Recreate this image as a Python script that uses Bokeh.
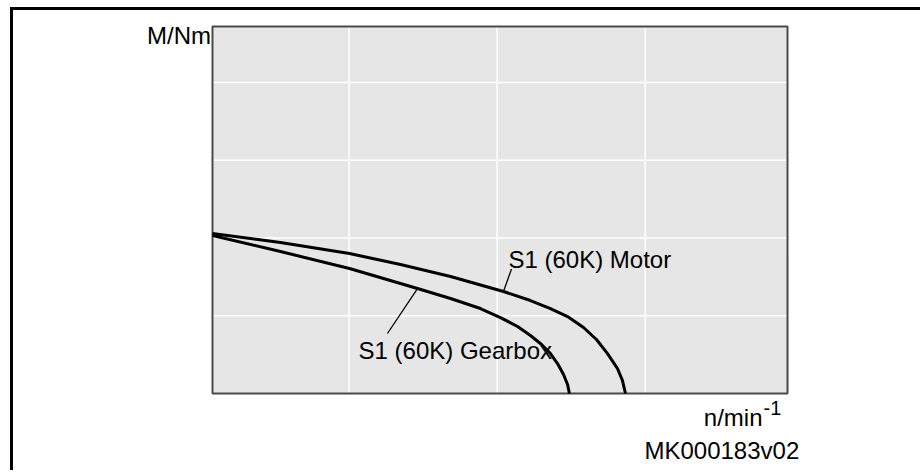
from bokeh.plotting import figure
from bokeh.models import Label, Range1d, Spacer
from bokeh.layouts import row
from bokeh.embed import file_html
from bokeh.resources import INLINE

# Speed n and torque M (arbitrary units, no scale shown)
motor_n = [0.0, 0.473, 0.953, 1.308, 1.656, 2.024, 2.212, 2.351, 2.470, 2.581, 2.671, 2.748, 2.817, 2.852, 2.873]
motor_m = [2.058, 1.942, 1.801, 1.659, 1.505, 1.312, 1.196, 1.093, 0.990, 0.849, 0.695, 0.514, 0.322, 0.167, 0.0]
gear_n = [0.0, 0.473, 0.953, 1.426, 1.656, 1.864, 2.003, 2.122, 2.212, 2.289, 2.351, 2.400, 2.442, 2.470, 2.483]
gear_m = [2.032, 1.826, 1.608, 1.350, 1.222, 1.093, 0.977, 0.862, 0.746, 0.630, 0.514, 0.386, 0.244, 0.116, 0.0]
x_grid = [0.95, 1.98, 3.01]
y_grid = [1, 2, 3, 4]
x_min, x_max = 0.0, 4.0
y_min, y_max = 0.0, 4.72
motor_label = "S1 (60K) Motor"
gear_label = "S1 (60K) Gearbox"
y_label = "M/Nm"
x_label = "n/min"
x_label_sup = "-1"
doc_id = "MK000183v02"

FONT = "Liberation Sans"
W, H = 787, 460

p = figure(width=W, height=H, x_range=Range1d(-1.3843, 4.0904), y_range=Range1d(-0.990, 4.926),
           output_backend="svg", toolbar_location=None,
           x_axis_location=None, y_axis_location=None,
           min_border=0, min_border_left=0, min_border_right=0,
           min_border_top=0, min_border_bottom=0)
p.background_fill_color = "white"
p.border_fill_color = "white"
p.outline_line_color = None
p.grid.visible = False

# plot area
p.quad(left=[x_min], right=[x_max], bottom=[y_min], top=[y_max],
       fill_color="#e6e6e6", line_color=None)
# grid lines
p.segment(x0=x_grid, y0=[y_min] * len(x_grid), x1=x_grid, y1=[y_max] * len(x_grid),
          line_color="white", line_width=1.5)
p.segment(x0=[x_min] * len(y_grid), y0=y_grid, x1=[x_max] * len(y_grid), y1=y_grid,
          line_color="white", line_width=1.5)
# plot-area outline
p.quad(left=[x_min], right=[x_max], bottom=[y_min], top=[y_max],
       fill_color=None, line_color="#4a4a4a", line_width=2)

p.line(motor_n, motor_m, line_color="black", line_width=3, line_join="round")
p.line(gear_n, gear_m, line_color="black", line_width=3, line_join="round")

# leader lines from the curves to their labels
p.line([motor_n[5], 2.080], [motor_m[5], 1.601], line_color="black", line_width=1.3)
p.line([gear_n[3], 1.217], [gear_m[3], 0.772], line_color="black", line_width=1.3)

def lab(x, y, text, size="24px", align="left", baseline="middle"):
    p.add_layout(Label(x=x, y=y, text=text, text_font=FONT, text_font_size=size,
                       text_color="black", text_align=align, text_baseline=baseline))

lab(2.059, 1.723, motor_label)
lab(1.016, 0.553, gear_label)
lab(-0.01, 4.604, y_label, align="right")
lab(3.826, -0.309, x_label, align="right")
lab(3.833, -0.19, x_label_sup, size="20px")
lab(3.005, -0.733, doc_id)

layout = row(p, Spacer(width=120, height=H), margin=(7, 0, 0, 10))
layout.styles = {"border-top": "3px solid black", "border-left": "3px solid black"}

with open("out.html", "w") as f:
    f.write(file_html(layout, INLINE))
